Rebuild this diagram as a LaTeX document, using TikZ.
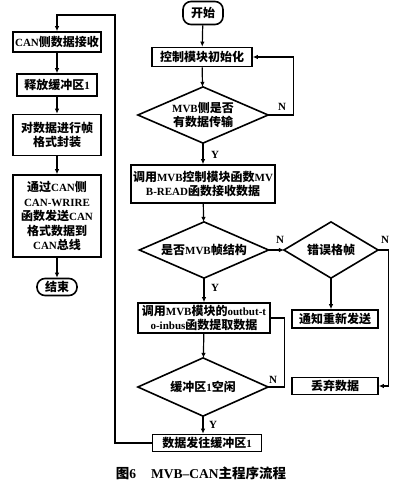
\documentclass[tikz,border=0pt]{standalone}
\usepackage{fontspec}
\setmainfont{Liberation Serif}
\newfontfamily\cjk{Noto Sans CJK SC}
\newfontfamily\latf{Liberation Serif}
\newcommand\lat[1]{{\latf\bfseries\fontsize{11}{14.5}\selectfont #1}}
\usetikzlibrary{arrows.meta}
\begin{document}
\begin{tikzpicture}[x=1pt,y=-1pt,line width=1.2pt,
  box/.style={draw,line width=1.6pt,inner sep=0pt,align=center,
    font=\cjk\bfseries\fontsize{12}{14.5}\selectfont},
  term/.style={box,rounded corners=8pt},
  dia/.style={inner sep=0pt,align=center,
    font=\cjk\bfseries\fontsize{12}{14.5}\selectfont},
  dline/.style={line width=1.6pt,line join=miter},
  arr/.style={-{Latex[length=5pt,width=4.5pt]}},
  lab/.style={font=\latf\bfseries\fontsize{11}{12}\selectfont,inner sep=1pt}]
\useasboundingbox[fill=white] (0,0) rectangle (400,486);
% left column
\node[box,minimum width=88pt,minimum height=20pt] (c1) at (57,42) {\lat{CAN}侧数据接收};
\node[box,minimum width=80pt,minimum height=22pt] (c2) at (57,85) {释放缓冲区\lat{1}};
\node[box,minimum width=88pt,minimum height=41pt] (c3) at (57,135) {对数据进行帧\\格式封装};
\node[box,minimum width=88pt,minimum height=82pt] (c4) at (57,216) {通过\lat{CAN}侧\\\lat{CAN-WRIRE}\\函数发送\lat{CAN}\\格式数据到\\\lat{CAN}总线};
\node[term,minimum width=40pt,minimum height=17pt] (end) at (57,287) {结束};
% right column
\node[term,minimum width=40pt,minimum height=23pt] (start) at (203,13) {开始};
\node[box,minimum width=100pt,minimum height=19pt] (init) at (202,57) {控制模块初始化};
\node[dia,minimum width=129pt,minimum height=55pt] (d1) at (203,115) {\lat{MVB}侧是否\\有数据传输};
\node[box,minimum width=144pt,minimum height=38pt] (read) at (203,184) {调用\lat{MVB}控制模块函数\lat{MV}\\\lat{B-READ}函数接收数据};
\node[dia,minimum width=128pt,minimum height=55pt] (d2) at (204,250) {是否\lat{MVB}帧结构};
\node[dia,minimum width=93pt,minimum height=55pt] (d3) at (331,250) {错误格帧};
\node[box,minimum width=86pt,minimum height=18pt] (notify) at (335,319) {通知重新发送};
\node[box,minimum width=86pt,minimum height=17pt] (discard) at (335,386) {丢弃数据};
\node[box,minimum width=132pt,minimum height=30pt] (extract) at (204,318) {调用\lat{MVB}模块的\lat{outbut-t}\\\lat{o-inbus}函数提取数据};
\node[dia,minimum width=129pt,minimum height=57pt] (d4) at (203,387) {缓冲区\lat{1}空闲};
\node[box,minimum width=109pt,minimum height=17pt] (send) at (207,443) {数据发往缓冲区\lat{1}};
\foreach \d in {d1,d2,d3,d4}
  \draw[dline] (\d.north) -- (\d.east) -- (\d.south) -- (\d.west) -- cycle;
% connectors
\draw[arr] (start) -- (init);
\draw[arr] (init) -- (d1);
\draw[arr] (d1.east) -- ++(25,0) |- (init.east);
\draw[arr] (d1.south) -- (read.north);
\draw[arr] (read) -- (d2);
\draw[arr] (d2.east) -- (d3.west);
\draw[arr] (d3.south) -- (d3.south |- notify.north);
\draw[arr] (d3.east) -- ++(10,0) |- (discard.east);
\draw[arr] (d2.south) -- (extract.north);
\draw[arr] (extract) -- (d4);
\draw (d4.east) -- ++(16,0) |- (extract.east);
\draw[arr] (d4.south) -- (d4.south |- send.north);
\coordinate (tl) at (115,15);
\draw[arr] (send.west) -| (tl) -| (c1.north);
\draw[arr] (c1) -- (c2);
\draw[arr] (c2) -- (c3);
\draw[arr] (c3) -- (c4);
\draw[arr] (c4) -- (end);
% labels
\node[lab] (n1) at (282,107) {N};
\node[lab] (y1) at (215,155) {Y};
\node[lab] (n2) at (280,240) {N};
\node[lab] (n3) at (385,240) {N};
\node[lab] (y2) at (215,288) {Y};
\node[lab] (n4) at (273,380) {N};
\node[lab] (y3) at (213,425) {Y};
% caption
\node[inner sep=0pt] (cap) at (201,473) {\cjk\bfseries\fontsize{13.5}{15}\selectfont 图{\latf 6}\hspace{1.1em}{\latf MVB–CAN}主程序流程};
\end{tikzpicture}
\end{document}
